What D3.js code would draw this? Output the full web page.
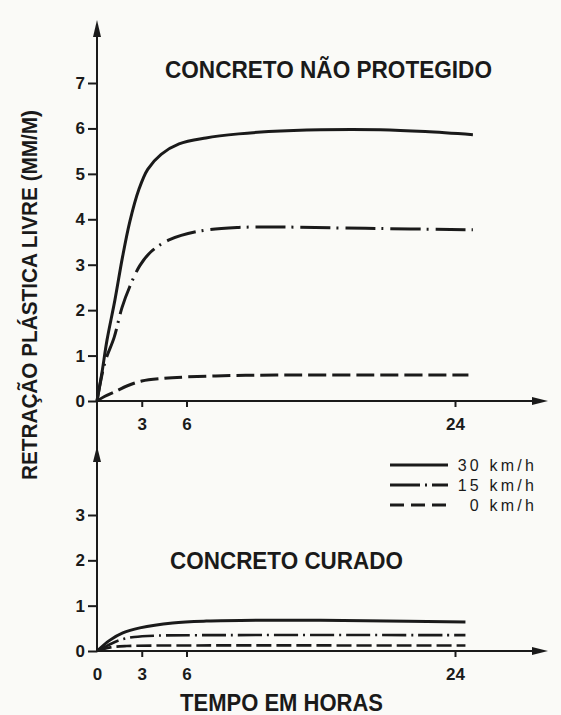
<!DOCTYPE html>
<html>
<head>
<meta charset="utf-8">
<script src="https://cdn.jsdelivr.net/npm/d3@7"></script>
<style>
  body { margin: 0; background: #fafaf7; }
  svg { display: block; }
  text { fill: #1a1a1a; font-family: "Liberation Sans", Arial, sans-serif; }
</style>
</head>
<body>
<div id="chart"></div>
<script>
//hours and free plastic shrinkage (mm/m)
var xTicksTop = [3, 6, 24];
var xTicksBottom = [0, 3, 6, 24];
var yTicksTop = [0, 1, 2, 3, 4, 5, 6, 7];
var yTicksBottom = [0, 1, 2, 3];

//unprotected concrete
var hours30Top = [0, 0.33, 0.67, 1.2, 1.7, 2.2, 2.8, 3.4, 4.3, 5.5, 7.3, 9.5, 11.5, 15, 19, 22, 25.2];
var values30Top = [0, 0.62, 1.34, 2.22, 3.15, 3.95, 4.65, 5.1, 5.43, 5.66, 5.79, 5.88, 5.93, 5.97, 5.97, 5.93, 5.86];
var hours15Top = [0, 0.53, 1.15, 1.67, 2.2, 2.87, 3.6, 4.87, 6.87, 9.5, 12, 18, 25.2];
var values15Top = [0, 0.85, 1.4, 2.05, 2.52, 2.98, 3.28, 3.55, 3.74, 3.82, 3.83, 3.8, 3.77];
var hours0Top = [0, 0.5, 1.3, 2, 3, 4.5, 6, 9, 12, 18, 24.9];
var values0Top = [0, 0.1, 0.22, 0.33, 0.44, 0.5, 0.53, 0.56, 0.57, 0.57, 0.57];

//cured concrete
var hours30Bottom = [0, 0.87, 1.73, 2.87, 5.07, 7.33, 12.9, 18, 24.7];
var values30Bottom = [0, 0.24, 0.4, 0.51, 0.62, 0.66, 0.68, 0.67, 0.64];
var hours15Bottom = [0, 0.7, 1.5, 2.5, 4, 8, 24.7];
var values15Bottom = [0, 0.12, 0.24, 0.31, 0.34, 0.35, 0.35];
var hours0Bottom = [0, 0.9, 2, 4, 24.7];
var values0Bottom = [0, 0.08, 0.11, 0.12, 0.12];

var legendLabels = ["30 km/h", "15 km/h", "0 km/h"];

var width = 561, height = 715;
var ink = "#1a1a1a";

var svg = d3.select("#chart").append("svg")
    .attr("width", width)
    .attr("height", height);

//scales (same hour scale for both panels)
var x = d3.scaleLinear().domain([0, 24]).range([97, 455]);
var yTop = d3.scaleLinear().domain([0, 7]).range([401, 83]);
var yBottom = d3.scaleLinear().domain([0, 3]).range([651, 515]);

var styles = [
    {width: 3, dash: null},
    {width: 3, dash: "30,6,2,7"},
    {width: 3, dash: "18,6"}
];
var stylesBottom = [
    {width: 3, dash: null},
    {width: 2.6, dash: "24,5,2,5"},
    {width: 2.6, dash: "15,5"}
];

function zipSeries(h, v) {
    return h.map(function(d, i) { return {x: d, y: v[i]}; });
}

function drawLines(series, y, st) {
    var line = d3.line()
        .x(function(d) { return x(d.x); })
        .y(function(d) { return y(d.y); })
        .curve(d3.curveCatmullRom.alpha(0.5));
    svg.append("g").selectAll("path")
        .data(series)
        .enter().append("path")
        .attr("d", line)
        .attr("fill", "none")
        .attr("stroke", ink)
        .attr("stroke-width", function(d, i) { return st[i].width; })
        .attr("stroke-dasharray", function(d, i) { return st[i].dash; })
        .attr("stroke-linecap", "butt");
}

//axis helper: left ticks, no domain path
function yAxisAt(y, ticks) {
    var g = svg.append("g")
        .attr("transform", "translate(" + x(0) + ",0)")
        .call(d3.axisLeft(y).tickValues(ticks).tickSize(9).tickPadding(3).tickFormat(d3.format("d")));
    g.select(".domain").remove();
    g.selectAll("line").attr("stroke", ink).attr("stroke-width", 2);
    g.selectAll("text").attr("font-size", 17).attr("font-weight", "bold")
        .attr("fill", ink).attr("font-family", "Liberation Sans, Arial, sans-serif");
}

function xAxisAt(y0, ticks) {
    var g = svg.append("g")
        .attr("transform", "translate(0," + y0 + ")")
        .call(d3.axisBottom(x).tickValues(ticks).tickSize(6).tickPadding(11).tickFormat(d3.format("d")));
    g.select(".domain").remove();
    g.selectAll("line").attr("stroke", ink).attr("stroke-width", 2);
    g.selectAll("text").attr("font-size", 17).attr("font-weight", "bold")
        .attr("fill", ink).attr("font-family", "Liberation Sans, Arial, sans-serif");
    return g;
}

//vertical axis line, runs through both panels
svg.append("line")
    .attr("x1", x(0)).attr("x2", x(0))
    .attr("y1", 30).attr("y2", yBottom(0))
    .attr("stroke", ink).attr("stroke-width", 2);

//horizontal axes
[yTop(0), yBottom(0)].forEach(function(y0) {
    svg.append("line")
        .attr("x1", x(0)).attr("x2", 540)
        .attr("y1", y0).attr("y2", y0)
        .attr("stroke", ink).attr("stroke-width", 2);
    svg.append("path")
        .attr("d", "M548," + y0 + "L532," + (y0 - 4) + "L532," + (y0 + 4) + "Z")
        .attr("fill", ink);
});

//up arrows
svg.append("path")
    .attr("d", "M97,20L93,37L101,37Z")
    .attr("fill", ink);
svg.append("path")
    .attr("d", "M97,446L93,462L101,462Z")
    .attr("fill", ink);

yAxisAt(yTop, yTicksTop);
yAxisAt(yBottom, yTicksBottom);
xAxisAt(yTop(0), xTicksTop);
xAxisAt(yBottom(0), xTicksBottom).selectAll(".tick")
    .filter(function(d) { return d == 0; })
    .select("line").remove();

drawLines([zipSeries(hours30Top, values30Top), zipSeries(hours15Top, values15Top), zipSeries(hours0Top, values0Top)], yTop, styles);
drawLines([zipSeries(hours30Bottom, values30Bottom), zipSeries(hours15Bottom, values15Bottom), zipSeries(hours0Bottom, values0Bottom)], yBottom, stylesBottom);

//titles
svg.append("text")
    .attr("x", 165).attr("y", 78)
    .attr("font-size", 23).attr("font-weight", "bold")
    .attr("textLength", 327).attr("lengthAdjust", "spacingAndGlyphs")
    .text("CONCRETO NÃO PROTEGIDO");

svg.append("text")
    .attr("x", 170).attr("y", 569)
    .attr("font-size", 23).attr("font-weight", "bold")
    .attr("textLength", 233).attr("lengthAdjust", "spacingAndGlyphs")
    .text("CONCRETO CURADO");

svg.append("text")
    .attr("x", 180).attr("y", 711)
    .attr("font-size", 23).attr("font-weight", "bold")
    .attr("textLength", 203).attr("lengthAdjust", "spacingAndGlyphs")
    .text("TEMPO EM HORAS");

svg.append("text")
    .attr("transform", "translate(37,295) rotate(-90)")
    .attr("text-anchor", "middle")
    .attr("font-size", 22).attr("font-weight", "bold")
    .attr("textLength", 370).attr("lengthAdjust", "spacingAndGlyphs")
    .text("RETRAÇÃO PLÁSTICA LIVRE (MM/M)");

//legend
var legend = svg.append("g")
    .selectAll("g")
    .data(legendLabels)
    .enter().append("g")
    .attr("transform", function(d, i) { return "translate(390," + (465 + i * 20) + ")"; });

legend.append("line")
    .attr("x1", 0).attr("x2", 58)
    .attr("stroke", ink)
    .attr("stroke-width", 3)
    .attr("stroke-dasharray", function(d, i) { return ["", "30,5,2,5", "14,7"][i]; });

legend.append("text")
    .attr("x", 147)
    .attr("dy", "0.35em")
    .attr("text-anchor", "end")
    .attr("font-size", 16)
    .attr("letter-spacing", 3.2)
    .text(function(d) { return d; });
</script>
</body>
</html>
